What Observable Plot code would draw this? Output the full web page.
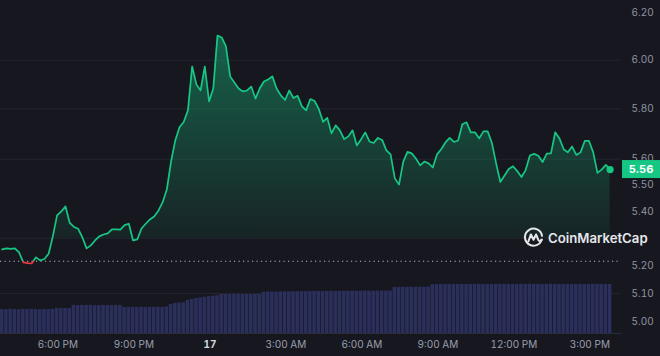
<!DOCTYPE html>
<html><head><meta charset="utf-8">
<script src="https://cdn.jsdelivr.net/npm/d3@7"></script>
<script src="https://cdn.jsdelivr.net/npm/@observablehq/plot@0.6"></script>
<style>
html,body{margin:0;padding:0;background:#17181f;}
#wrap{position:relative;width:660px;height:356px;background:#17181f;overflow:hidden;font-family:Inter,"Noto Sans",sans-serif;}
#wrap > svg{position:absolute;left:0;top:0;}
#logo{position:absolute;left:523px;top:227px;display:flex;align-items:center;gap:4px;color:#e6e7eb;font-size:13.2px;font-weight:600;}
</style></head><body><div id="wrap"></div>
<script>
// ---- data ----
const seriesStart = "2024-05-16T15:48Z";   // first sample, 10-minute steps
const stepMinutes = 10;
const prices = [
5.259,5.263,5.261,5.263,5.248,5.212,5.209,5.208,5.230,5.219,5.224,5.243,5.307,5.385,5.400,5.419,5.357,5.342,5.335,5.303,
5.263,5.274,5.292,5.307,5.314,5.318,5.333,5.333,5.332,5.349,5.354,5.292,5.296,5.336,5.354,5.370,5.381,5.403,5.434,5.483,
5.591,5.674,5.726,5.747,5.794,5.974,5.900,5.875,5.974,5.830,5.883,6.104,6.096,6.058,5.933,5.908,5.883,5.871,5.875,5.891,
5.842,5.883,5.912,5.920,5.933,5.883,5.855,5.836,5.875,5.844,5.853,5.810,5.794,5.840,5.832,5.800,5.748,5.764,5.702,5.734,
5.714,5.679,5.690,5.714,5.654,5.678,5.706,5.670,5.664,5.684,5.676,5.635,5.619,5.526,5.502,5.590,5.629,5.623,5.603,5.576,
5.591,5.584,5.568,5.619,5.639,5.666,5.684,5.668,5.674,5.738,5.746,5.706,5.706,5.682,5.710,5.710,5.664,5.584,5.512,5.537,
5.562,5.573,5.554,5.531,5.558,5.615,5.621,5.614,5.589,5.622,5.623,5.706,5.682,5.639,5.627,5.650,5.617,5.627,5.672,5.672,
5.627,5.547,5.560,5.578,5.560];
const volumes = [ // 24h volume, $M
240,238,242,240,236,241,239,243,240,238,241,240,242,
250,249,251,250,
280,279,281,280,282,278,280,281,279,280,282,280,
262,260,261,259,262,260,261,263,262,262,265,
290,300,305,308,
330,340,350,355,362,368,372,378,
390,389,391,390,392,390,391,389,390,392,
412,414,415,414,416,417,416,418,418,419,418,420,420,421,420,421,422,421,422,423,422,423,422,424,423,424,423,424,425,424,425,
460,461,462,462,463,462,464,463,465,
488,489,490,489,490,491,490,490,491,490,491,492,491,490,491,492,491,492,491,490,491,492,491,492,491,492,490,491,492,491,490,491,492,491,492,491,490,491,492,491,492,491,490];
const openPrice = 5.216;
const lastPrice = 5.56;
const xDomainStr = ["2024-05-16T15:44Z", "2024-05-17T16:15Z"];
const xTickStr = ["2024-05-16T18:00Z","2024-05-16T21:00Z","2024-05-17T00:00Z","2024-05-17T03:00Z","2024-05-17T06:00Z","2024-05-17T09:00Z","2024-05-17T12:00Z","2024-05-17T15:00Z"];
const xTickLabels = ["6:00 PM","9:00 PM","17","3:00 AM","6:00 AM","9:00 AM","12:00 PM","3:00 PM"];
const yTicks = [6.20, 6.00, 5.80, 5.60, 5.50, 5.40, 5.20, 5.10, 5.00];
const gridLevels = [6.00, 5.80, 5.60, 5.30, 5.10];
const areaFloor = 5.30;
const areaTop = 6.10;

// ---- build ----
const t0 = Date.parse(seriesStart);
const data = prices.map((p, i) => ({t: new Date(t0 + i * stepMinutes * 60000), p}));
const volData = volumes.map((v, i) => ({t: new Date(t0 + i * stepMinutes * 60000), v}));
const xDomain = xDomainStr.map(s => new Date(s));
const xTicks = xTickStr.map(s => new Date(s));
const last = data[data.length - 1];
const GREEN = "#16c784", RED = "#ea3943";
const W = 660, H = 356;
const wrap = document.getElementById("wrap");

const pricePlot = Plot.plot({
  width: W, height: H, marginLeft: 0, marginRight: 39, marginTop: 12, marginBottom: 34,
  x: {type: "utc", domain: xDomain, range: [0, 621], axis: null},
  y: {type: "log", domain: [5.0, 6.2], range: [321.4, 12.7]},
  style: {background: "transparent", fontFamily: "Inter, sans-serif", fontSize: "10px", overflow: "visible"},
  marks: [
    Plot.ruleY(gridLevels, {stroke: "#23252f", strokeWidth: 1}),
    Plot.areaY(data, {x: "t", y1: areaFloor, y2: d => Math.max(d.p, areaFloor), fill: "url(#areaGrad)"}),
    Plot.ruleY([openPrice], {stroke: "#b4b8c4", strokeDasharray: "1.2,3.3", strokeWidth: 1.1}),
    Plot.line(data, {x: "t", y: "p", stroke: "url(#lineGrad)", strokeWidth: 1.7, strokeLinejoin: "round"}),
    Plot.dot([last], {x: "t", y: "p", r: 3.6, fill: GREEN, stroke: "none"}),
    Plot.axisY({anchor: "right", ticks: yTicks, tickFormat: d => d.toFixed(2), tickSize: 0, tickPadding: 10,
      fill: "#8f94a3", fontSize: 10, label: null})
  ]
});

const ys = pricePlot.scale("y");
const svgNS = "http://www.w3.org/2000/svg";
const yOpen = ys.apply(openPrice);
const defs = document.createElementNS(svgNS, "defs");
defs.innerHTML =
  `<linearGradient id="lineGrad" gradientUnits="userSpaceOnUse" x1="0" y1="0" x2="0" y2="${H}">
     <stop offset="${yOpen / H}" stop-color="${GREEN}"/><stop offset="${yOpen / H}" stop-color="${RED}"/>
   </linearGradient>
   <linearGradient id="areaGrad" gradientUnits="userSpaceOnUse" x1="0" y1="${ys.apply(areaTop)}" x2="0" y2="${ys.apply(areaFloor)}">
     <stop offset="0" stop-color="${GREEN}" stop-opacity="0.42"/>
     <stop offset="1" stop-color="${GREEN}" stop-opacity="0.07"/>
   </linearGradient>`;
pricePlot.insertBefore(defs, pricePlot.firstChild);

// current price tag
const yLast = ys.apply(lastPrice);
const tag = document.createElementNS(svgNS, "g");
tag.innerHTML = `<rect x="622" y="${yLast - 9}" width="38" height="18" fill="${GREEN}"/>
  <text x="641" y="${yLast}" dy="0.36em" text-anchor="middle" fill="#ffffff" font-size="11" font-weight="700" font-family="Inter, sans-serif">${lastPrice.toFixed(2)}</text>`;
pricePlot.appendChild(tag);

const volPlot = Plot.plot({
  width: W, height: H, marginLeft: 0, marginRight: 39, marginTop: 0, marginBottom: 23,
  x: {type: "utc", domain: xDomain, range: [0, 621]},
  y: {domain: [0, 500], range: [333, 283], axis: null},
  style: {background: "transparent", fontFamily: "Inter, sans-serif", fontSize: "10px", overflow: "visible"},
  marks: [
    Plot.rect(volData, {x1: d => new Date(+d.t - 300000), x2: d => new Date(+d.t + 300000), y1: 0, y2: "v",
      fill: "#2b2f5c", insetLeft: 0.35, insetRight: 0.35}),
    Plot.ruleY([0], {stroke: "#2a2c38"}),
    Plot.axisX({ticks: xTicks, tickFormat: d => xTickLabels[xTicks.findIndex(t => +t === +d)],
      tickSize: 0, tickPadding: 7, fill: "#9a9fae", fontSize: 10, label: null})
  ]
});
volPlot.querySelectorAll("text").forEach(t => {
  if (t.textContent === "17") { t.setAttribute("font-weight", "700"); t.setAttribute("fill", "#d4d7de"); }
});

wrap.appendChild(pricePlot);
wrap.appendChild(volPlot);

// brand mark
const logo = document.createElement("div");
logo.id = "logo";
logo.innerHTML = `<svg width="21" height="21" viewBox="0 0 22 22" style="position:static">
  <path d="M19.6 13.4 A9 9 0 1 1 19.9 9.2" fill="none" stroke="#e6e7eb" stroke-width="2.1" stroke-linecap="round"/>
  <path d="M5.6 15.2 L8.3 7.8 L11 13.4 L13.7 7.8 L16 13.6 Q17.2 15.6 19.6 13.4" fill="none" stroke="#e6e7eb" stroke-width="2.1" stroke-linejoin="round" stroke-linecap="round"/>
</svg><span>CoinMarketCap</span>`;
wrap.appendChild(logo);
</script>
</body></html>
